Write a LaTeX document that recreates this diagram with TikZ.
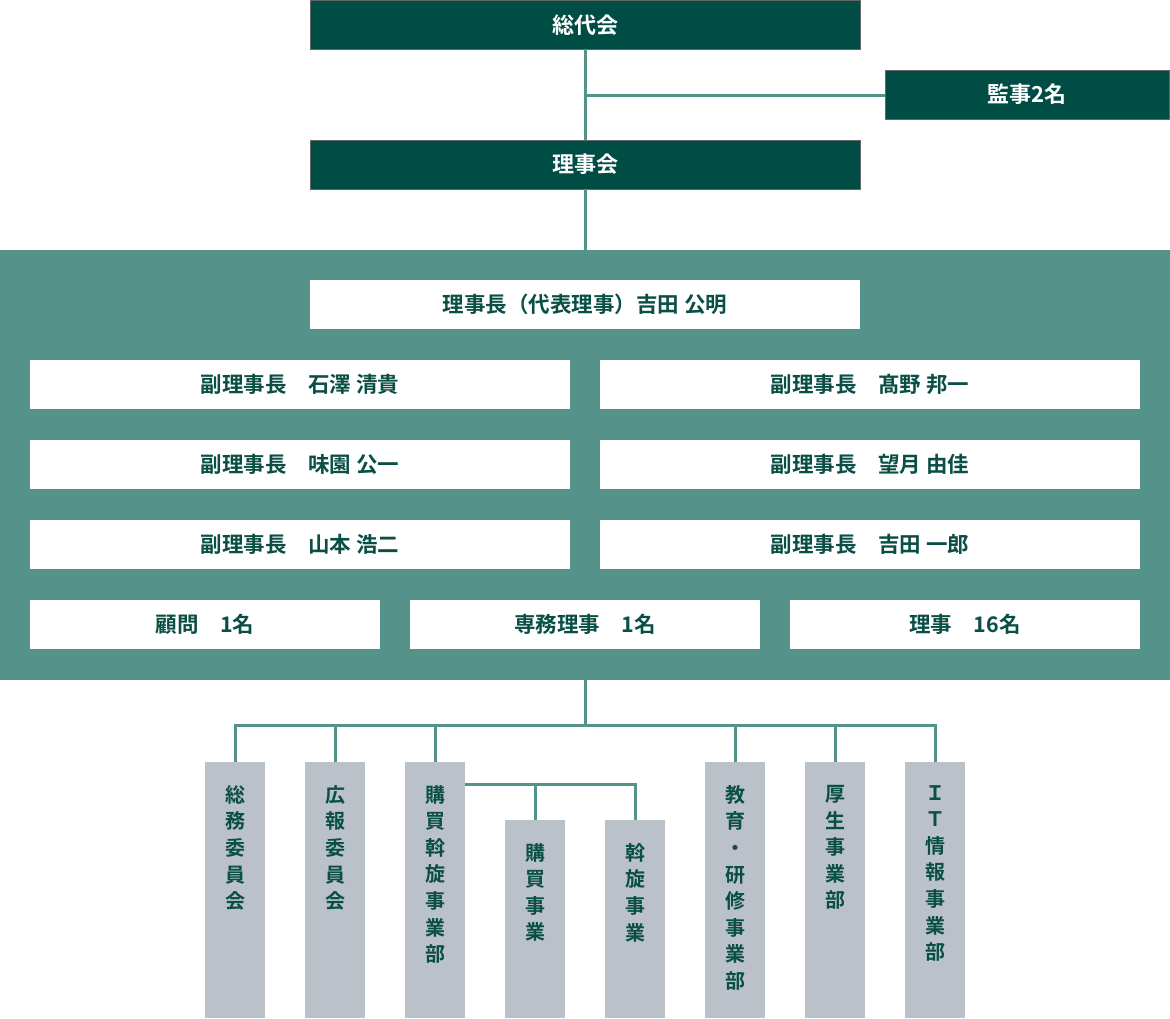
\documentclass[tikz,border=0pt]{standalone}
\usepackage{fontspec}
\setmainfont{Noto Sans CJK JP}[BoldFont={* Bold}]
\newfontfamily\jpb{Noto Sans CJK JP Bold}
\definecolor{dkgreen}{HTML}{004D45}
\definecolor{teal}{HTML}{55938A}
\definecolor{grayb}{HTML}{BAC1C8}
\definecolor{txtg}{HTML}{0A4F46}
\begin{document}
\begin{tikzpicture}[x=1pt,y=-1pt,
  darkbox/.style={draw=black!60,line width=1pt,fill=dkgreen,text=white,font=\jpb\fontsize{22}{24}\selectfont},
  whitebox/.style={fill=white,text=txtg,font=\jpb\fontsize{21.5}{24}\selectfont},
  graybox/.style={fill=grayb},
  vtext/.style={text=txtg,font=\jpb\fontsize{20}{26.6}\selectfont,align=center,anchor=north,inner sep=0pt},
  conn/.style={draw=teal,line width=3pt}]
\useasboundingbox (0,0) rectangle (1170,1018);
% top boxes
\path[darkbox] (310,0.5) rectangle (860,49) node[midway] (sodai) {総代会};
\path[darkbox] (885,70) rectangle (1169.5,119) node[midway] (kanji) {監事2名};
\path[darkbox] (310,140) rectangle (860,189) node[midway] (rijikai) {理事会};
\coordinate (a1) at (585,49);
\coordinate (a2) at (585,140);
\coordinate (a3) at (585,95);
\coordinate (a4) at (885,95);
\draw[conn] (a1) -- (a2);
\draw[conn] (a3) -- (a4);
\coordinate (b1) at (585,189);
\coordinate (b2) at (585,250);
\draw[conn] (b1) -- (b2);
% panel
\fill[teal] (0,250) rectangle (1170,680);
\coordinate (panelbot) at (585,680);
\path[whitebox] (310,280) rectangle (860,329) node[midway] (rijicho) {理事長（代表理事）吉田 公明};
\path[whitebox] (30,360) rectangle (570,409) node[midway] (f1) {副理事長　石澤 清貴};
\path[whitebox] (600,360) rectangle (1140,409) node[midway] (f2) {副理事長　髙野 邦一};
\path[whitebox] (30,440) rectangle (570,489) node[midway] (f3) {副理事長　味園 公一};
\path[whitebox] (600,440) rectangle (1140,489) node[midway] (f4) {副理事長　望月 由佳};
\path[whitebox] (30,520) rectangle (570,569) node[midway] (f5) {副理事長　山本 浩二};
\path[whitebox] (600,520) rectangle (1140,569) node[midway] (f6) {副理事長　吉田 一郎};
\path[whitebox] (30,600) rectangle (380,649) node[midway] (komon) {顧問　1名};
\path[whitebox] (410,600) rectangle (760,649) node[midway] (senmu) {専務理事　1名};
\path[whitebox] (790,600) rectangle (1140,649) node[midway] (riji) {理事　16名};
% bottom tree
\coordinate (t0) at (585,725);
\draw[conn] (panelbot) -- (t0);
\draw[conn,line cap=rect] (235,762) -- (235,725) -- (935,725) -- (935,762);
\foreach \x in {335,435,735,835} \draw[conn] (\x,725) -- (\x,762);
\draw[conn] (465,784.5) -- (635,784.5) -- (635,820);
\draw[conn] (535,784.5) -- (535,820);
% gray boxes
\fill[graybox] (205,762) rectangle (265,1018);
\fill[graybox] (305,762) rectangle (365,1018);
\fill[graybox] (405,762) rectangle (465,1018);
\fill[graybox] (505,820) rectangle (565,1018);
\fill[graybox] (605,820) rectangle (665,1018);
\fill[graybox] (705,762) rectangle (765,1018);
\fill[graybox] (805,762) rectangle (865,1018);
\fill[graybox] (905,762) rectangle (965,1018);
\node[vtext] (g1) at (235,785) {総\\務\\委\\員\\会};
\node[vtext] (g2) at (335,785) {広\\報\\委\\員\\会};
\node[vtext] (g3) at (435,785) {購\\買\\斡\\旋\\事\\業\\部};
\node[vtext] (g4) at (535,843) {購\\買\\事\\業};
\node[vtext] (g5) at (635,843) {斡\\旋\\事\\業};
\node[vtext] (g6) at (735,785) {教\\育\\・\\研\\修\\事\\業\\部};
\node[vtext] (g7) at (835,785) {厚\\生\\事\\業\\部};
\node[vtext] (g8) at (935,785) {Ｉ\\Ｔ\\情\\報\\事\\業\\部};
\end{tikzpicture}
\end{document}
